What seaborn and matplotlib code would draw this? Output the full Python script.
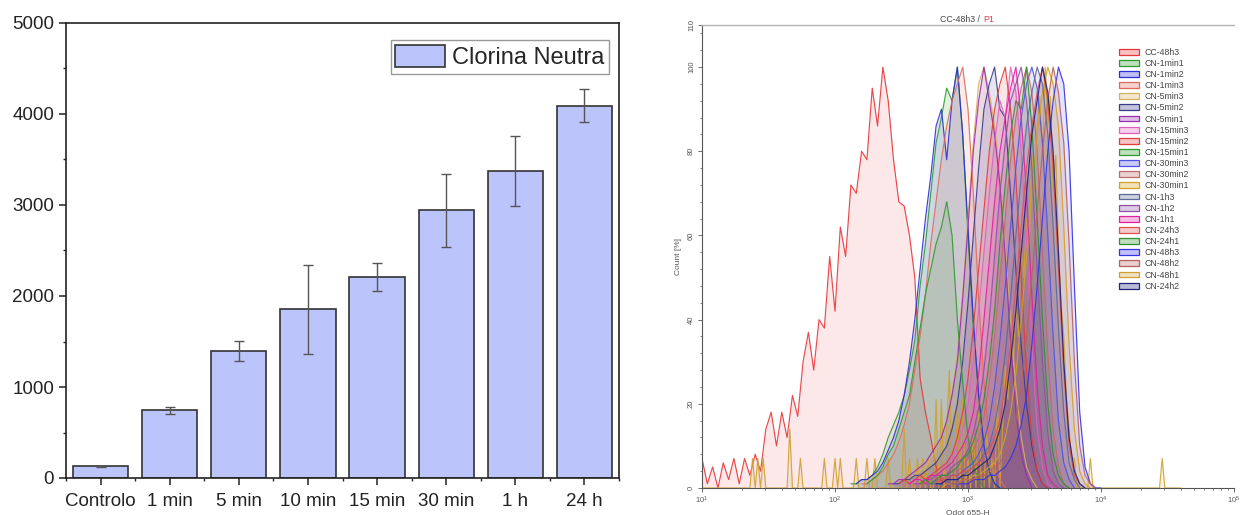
import numpy as np
import pandas as pd
import matplotlib
matplotlib.use("Agg")
import matplotlib.pyplot as plt
import seaborn as sns
from matplotlib.patches import Patch
from matplotlib.ticker import MultipleLocator, LogLocator, NullFormatter, FixedLocator

# ------------------------------------------------------------------
# Left panel data (mean fluorescence, Clorina Neutra)
# ------------------------------------------------------------------
categories = ["Controlo", "1 min", "5 min", "10 min", "15 min", "30 min", "1 h", "24 h"]
mfi = [130, 745, 1400, 1855, 2210, 2940, 3375, 4090]
mfi_err = [5, 37, 110, 490, 152, 403, 381, 182]
bar_label = "Clorina Neutra"

# ------------------------------------------------------------------
# Right panel data: mode-normalised histograms (Count %)
# each list = counts per channel, channels 0.04 decade apart,
# *_start = log10(Qdot 655-H) of the first channel
# ------------------------------------------------------------------
channel_step = 0.04

cc_48h3_start = 1.00
cc_48h3 = [7, 1, 5, 0, 6, 2, 7, 1, 7, 3, 8, 4, 14, 18, 10, 18, 12, 22, 17, 30,
           37, 28, 40, 38, 55, 42, 62, 55, 72, 70, 80, 78, 95, 86, 100, 92, 78, 68, 67, 60,
           50, 26, 18, 12, 5, 2, 0]

cn_1min1_start = 2.12
cn_1min1 = [1, 1, 2, 2, 3, 5, 8, 12, 15, 18, 22, 28, 35, 48, 58, 70, 82, 88, 95, 92,
            100, 84, 60, 38, 22, 10, 4, 1, 0]
cn_1min2_start = 2.16
cn_1min2 = [1, 2, 2, 3, 4, 6, 9, 12, 16, 22, 30, 40, 52, 64, 74, 86, 90, 78, 92, 100,
            84, 62, 40, 22, 10, 4, 1, 0]
cn_1min3_start = 2.20
cn_1min3 = [1, 1, 2, 3, 4, 6, 8, 11, 15, 20, 28, 36, 46, 58, 68, 78, 86, 92, 96, 100,
            90, 70, 45, 25, 12, 5, 2, 0]
cn_5min3_start = 2.48
cn_5min3 = [1, 2, 2, 3, 4, 5, 7, 9, 12, 16, 22, 32, 46, 64, 82, 96, 100, 94, 86, 74,
            58, 40, 24, 12, 5, 2, 0]
cn_5min2_start = 2.44
cn_5min2 = [1, 1, 2, 2, 3, 3, 4, 5, 6, 8, 10, 14, 20, 30, 44, 60, 76, 90, 96, 100,
            90, 88, 70, 52, 34, 20, 10, 4, 1, 0]
cn_5min1_start = 2.40
cn_5min1 = [1, 1, 2, 2, 3, 4, 5, 6, 8, 10, 12, 16, 22, 30, 45, 62, 80, 92, 100, 92,
            84, 72, 55, 35, 18, 8, 3, 0]
cn_15min3_start = 2.52
cn_15min3 = [1, 1, 2, 2, 2, 3, 3, 4, 6, 7, 10, 14, 20, 30, 42, 56, 70, 82, 92, 88,
             100, 94, 80, 58, 34, 14, 5, 1, 0]
cn_15min2_start = 2.48
cn_15min2 = [1, 2, 1, 2, 3, 2, 3, 4, 5, 6, 8, 12, 18, 26, 38, 52, 66, 80, 90, 96,
             100, 90, 74, 50, 28, 12, 4, 1, 0]
cn_15min1_start = 2.24
cn_15min1 = [1, 2, 3, 5, 8, 10, 14, 18, 22, 30, 38, 46, 52, 58, 62, 68, 60, 40, 25, 12,
             5, 2, 0]
cn_30min3_start = 2.68
cn_30min3 = [1, 1, 2, 2, 2, 3, 3, 4, 5, 6, 8, 11, 16, 24, 35, 48, 62, 76, 88, 96,
             100, 95, 82, 60, 36, 16, 6, 2, 0]
cn_30min2_start = 2.64
cn_30min2 = [1, 1, 1, 2, 2, 3, 4, 4, 5, 7, 9, 12, 17, 25, 36, 50, 64, 78, 88, 95,
             100, 94, 80, 56, 32, 14, 5, 1, 0]
cn_30min1_start = 2.80
cn_30min1 = [0, 1, 1, 1, 2, 2, 3, 3, 4, 5, 6, 8, 12, 18, 27, 40, 55, 70, 84, 94,
             100, 96, 86, 62, 34, 14, 4, 1, 0]
cn_1h3_start = 2.72
cn_1h3 = [1, 1, 1, 2, 2, 2, 3, 4, 5, 6, 8, 10, 15, 22, 32, 45, 60, 74, 86, 94,
          100, 96, 84, 62, 38, 18, 6, 2, 0]
cn_1h2_start = 2.60
cn_1h2 = [1, 1, 2, 2, 3, 3, 3, 5, 6, 7, 9, 13, 19, 28, 40, 55, 70, 82, 92, 96,
          100, 92, 76, 52, 30, 13, 4, 1, 0]
cn_1h1_start = 2.56
cn_1h1 = [1, 2, 2, 1, 3, 3, 4, 5, 6, 8, 10, 13, 18, 27, 40, 54, 68, 80, 88, 95,
          100, 88, 70, 46, 24, 10, 3, 1, 0]
cn_24h3_start = 2.76
cn_24h3 = [1, 2, 2, 3, 3, 4, 4, 5, 6, 7, 9, 12, 16, 24, 34, 48, 62, 76, 86, 94,
           100, 92, 76, 52, 28, 10, 3, 1, 0]
cn_24h1_start = 2.64
cn_24h1 = [1, 2, 1, 2, 3, 3, 4, 5, 7, 8, 11, 15, 21, 30, 42, 58, 72, 84, 92, 90,
           100, 86, 64, 40, 20, 8, 3, 1, 0]
cn_48h3_start = 2.88
cn_48h3 = [1, 1, 1, 1, 2, 2, 2, 3, 3, 4, 5, 7, 10, 15, 22, 34, 48, 64, 80, 92,
           100, 96, 80, 48, 18, 5, 1, 0, 0]
cn_48h2_start = 2.84
cn_48h2 = [1, 1, 1, 2, 2, 2, 3, 3, 4, 5, 6, 8, 11, 16, 24, 36, 50, 66, 80, 92,
           100, 94, 82, 58, 30, 10, 3, 1, 0]
cn_24h2_start = 2.76
cn_24h2 = [1, 1, 2, 2, 2, 3, 3, 4, 5, 6, 7, 10, 14, 20, 30, 42, 56, 70, 84, 92,
           100, 94, 80, 56, 30, 12, 4, 1, 0]

# CN-48h1: low event count -> sparse channels (0.02 decade grid), others empty
cn_48h1_grid = (1.00, 4.60, 0.02)
cn_48h1_events = {
    1.38: 7, 1.42: 7, 1.46: 7, 1.66: 14, 1.74: 7, 1.92: 7, 2.00: 7, 2.04: 7,
    2.16: 7, 2.24: 7, 2.30: 7, 2.40: 7, 2.52: 14, 2.56: 7, 2.62: 7, 2.66: 7,
    2.70: 7, 2.76: 21, 2.80: 21, 2.84: 14, 2.86: 28, 2.92: 21, 2.96: 21, 3.00: 7,
    3.04: 14, 3.08: 21, 3.14: 14, 3.18: 7, 3.22: 21, 3.26: 14, 3.28: 29, 3.30: 21,
    3.32: 36, 3.34: 29, 3.36: 43, 3.38: 36, 3.40: 57, 3.42: 50, 3.44: 64, 3.46: 57,
    3.48: 79, 3.50: 71, 3.52: 86, 3.54: 93, 3.56: 79, 3.58: 100, 3.60: 86, 3.62: 93,
    3.64: 71, 3.66: 79, 3.68: 57, 3.70: 43, 3.72: 36, 3.74: 21, 3.76: 14, 3.78: 7,
    3.80: 7, 3.92: 7, 4.46: 7,
}

legend_order = ["CC-48h3", "CN-1min1", "CN-1min2", "CN-1min3", "CN-5min3", "CN-5min2",
                "CN-5min1", "CN-15min3", "CN-15min2", "CN-15min1", "CN-30min3",
                "CN-30min2", "CN-30min1", "CN-1h3", "CN-1h2", "CN-1h1", "CN-24h3",
                "CN-24h1", "CN-48h3", "CN-48h2", "CN-48h1", "CN-24h2"]

hist_data = {
    "CC-48h3": (cc_48h3_start, cc_48h3),
    "CN-1min1": (cn_1min1_start, cn_1min1),
    "CN-1min2": (cn_1min2_start, cn_1min2),
    "CN-1min3": (cn_1min3_start, cn_1min3),
    "CN-5min3": (cn_5min3_start, cn_5min3),
    "CN-5min2": (cn_5min2_start, cn_5min2),
    "CN-5min1": (cn_5min1_start, cn_5min1),
    "CN-15min3": (cn_15min3_start, cn_15min3),
    "CN-15min2": (cn_15min2_start, cn_15min2),
    "CN-15min1": (cn_15min1_start, cn_15min1),
    "CN-30min3": (cn_30min3_start, cn_30min3),
    "CN-30min2": (cn_30min2_start, cn_30min2),
    "CN-30min1": (cn_30min1_start, cn_30min1),
    "CN-1h3": (cn_1h3_start, cn_1h3),
    "CN-1h2": (cn_1h2_start, cn_1h2),
    "CN-1h1": (cn_1h1_start, cn_1h1),
    "CN-24h3": (cn_24h3_start, cn_24h3),
    "CN-24h1": (cn_24h1_start, cn_24h1),
    "CN-48h3": (cn_48h3_start, cn_48h3),
    "CN-48h2": (cn_48h2_start, cn_48h2),
    "CN-24h2": (cn_24h2_start, cn_24h2),
}

# styles
hist_colors = {
    "CC-48h3": "#e8363a", "CN-1min1": "#2e9a2e", "CN-1min2": "#2d2dd8",
    "CN-1min3": "#e06a5a", "CN-5min3": "#d8b060", "CN-5min2": "#3a3a8c",
    "CN-5min1": "#9a2cb0", "CN-15min3": "#e060c0", "CN-15min2": "#e23c3c",
    "CN-15min1": "#2e9a2e", "CN-30min3": "#5050e6", "CN-30min2": "#c06a6a",
    "CN-30min1": "#d4a020", "CN-1h3": "#5a6a9c", "CN-1h2": "#9050a8",
    "CN-1h1": "#e020a0", "CN-24h3": "#e05050", "CN-24h1": "#309030",
    "CN-48h3": "#3232e8", "CN-48h2": "#b86060", "CN-48h1": "#d0a030",
    "CN-24h2": "#20207e",
}
bar_color = "#bcc4fc"

# ------------------------------------------------------------------
sns.set_style("ticks")
plt.rcParams["font.family"] = ["Liberation Sans", "DejaVu Sans"]
plt.rcParams["mathtext.fontset"] = "dejavusans"

W, H = 1242, 515
fig = plt.figure(figsize=(W / 100, H / 100), dpi=100)
ax1 = fig.add_axes([66 / W, 1 - 478 / H, (619 - 66) / W, (478 - 23) / H])
ax2 = fig.add_axes([702 / W, 1 - 488 / H, (1234 - 702) / W, (488 - 25) / H])

# ---------------- left: bar chart ----------------
df = pd.DataFrame({"cat": categories, "mfi": mfi, "err": mfi_err})
sns.barplot(data=df, x="cat", y="mfi", ax=ax1, color=bar_color, saturation=1,
            edgecolor="#333333", linewidth=1.2, width=0.8, errorbar=None)
ax1.errorbar(np.arange(len(categories)), df["mfi"], yerr=df["err"], fmt="none",
             ecolor="#555555", elinewidth=1.0, capsize=3.5, capthick=1.0, zorder=5)
ax1.set_xlim(-0.5, len(categories) - 0.5)
ax1.set_ylim(0, 5000)
ax1.set_xlabel("")
ax1.set_ylabel("")
ax1.yaxis.set_major_locator(MultipleLocator(1000))
ax1.yaxis.set_minor_locator(MultipleLocator(500))
ax1.xaxis.set_minor_locator(FixedLocator(np.arange(len(categories) + 1) - 0.5))
for s in ax1.spines.values():
    s.set_visible(True)
    s.set_linewidth(1.2)
    s.set_color("#222222")
ax1.tick_params(axis="both", which="major", direction="out", length=5, width=1.1,
                labelsize=13.5, colors="#222222")
ax1.tick_params(axis="both", which="minor", direction="out", length=2.5, width=1.0)
ax1.tick_params(axis="x", which="major", pad=6)
ax1.legend(handles=[Patch(facecolor=bar_color, edgecolor="#333333", linewidth=1.2,
                          label=bar_label)],
           loc="upper right", bbox_to_anchor=(0.982, 0.963), borderaxespad=0,
           fontsize=17, frameon=True, fancybox=False, edgecolor="#999999",
           framealpha=1, handlelength=2.1, handleheight=1.1, borderpad=0.2,
           handletextpad=0.3)

# ---------------- right: histogram overlay ----------------
ax2.set_xscale("log")
ax2.set_xlim(10, 1e5)
ax2.set_ylim(0, 110)

draw_order = ["CC-48h3", "CN-48h1"] + [n for n in legend_order if n not in ("CC-48h3", "CN-48h1")]
for name in draw_order:
    col = hist_colors[name]
    if name == "CN-48h1":
        g0, g1, gs = cn_48h1_grid
        xl = np.round(np.arange(g0, g1 + gs / 2, gs), 2)
        yv = np.array([cn_48h1_events.get(float(v), 0) for v in xl], dtype=float)
        fill_alpha = 0.10
    else:
        start, counts = hist_data[name]
        xl = start + channel_step * np.arange(len(counts))
        yv = np.array(counts, dtype=float)
        fill_alpha = 0.13 if name != "CC-48h3" else 0.11
    xs = 10 ** xl
    ax2.fill_between(xs, 0, yv, color=col, alpha=fill_alpha, lw=0)
    sns.lineplot(x=xs, y=yv, ax=ax2, color=col, lw=0.85, estimator=None,
                 sort=False, alpha=0.9)

ax2.spines["right"].set_visible(False)
ax2.spines["top"].set_color("#b5b5b5")
ax2.spines["top"].set_linewidth(1.0)
for side in ("left", "bottom"):
    ax2.spines[side].set_color("#555555")
    ax2.spines[side].set_linewidth(0.8)

ax2.yaxis.set_major_locator(FixedLocator([0, 20, 40, 60, 80, 100, 110]))
ax2.yaxis.set_minor_locator(MultipleLocator(4))
ax2.xaxis.set_major_locator(LogLocator(base=10, numticks=10))
ax2.xaxis.set_minor_locator(LogLocator(base=10, subs=np.arange(2, 10), numticks=20))
ax2.xaxis.set_minor_formatter(NullFormatter())
ax2.tick_params(axis="both", which="major", direction="out", length=3, width=0.6,
                labelsize=5.5, colors="#555555", pad=2)
ax2.tick_params(axis="both", which="minor", direction="out", length=1.6, width=0.5,
                colors="#555555")
ax2.tick_params(axis="y", labelrotation=90)
for lab in ax2.get_yticklabels():
    lab.set_va("center")
ax2.set_xlabel("Qdot 655-H", fontsize=6, color="#555555", labelpad=3)
ax2.set_ylabel("Count [%]", fontsize=6, color="#555555", labelpad=4)

ax2.text(0.522, 1.003, "CC-48h3 /", transform=ax2.transAxes, ha="right", va="bottom",
         fontsize=6.3, color="#444444")
ax2.text(0.528, 1.003, "P1", transform=ax2.transAxes, ha="left", va="bottom",
         fontsize=6.3, color="#e23c4a")

handles = [Patch(facecolor=matplotlib.colors.to_rgba(hist_colors[n], 0.3),
                 edgecolor=hist_colors[n], linewidth=0.9, label=n) for n in legend_order]
leg = ax2.legend(handles=handles, loc="upper left", bbox_to_anchor=(0.784, 0.951),
                 borderaxespad=0, frameon=False, fontsize=6.3, handlelength=2.3,
                 handleheight=0.65, labelspacing=0.245, handletextpad=0.6,
                 borderpad=0)
for t in leg.get_texts():
    t.set_color("#444444")

fig.savefig("out.png", dpi=100)
